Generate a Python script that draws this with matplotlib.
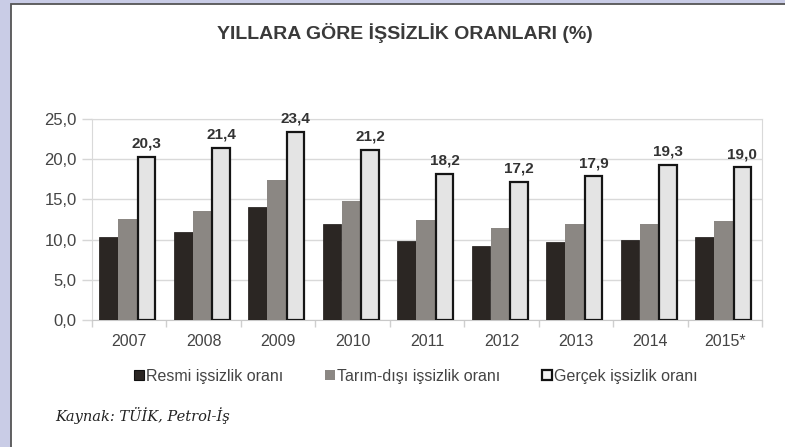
import matplotlib.pyplot as plt
import numpy as np
from matplotlib.patches import Rectangle, Patch

plt.rcParams['font.family'] = ['Liberation Sans', 'DejaVu Sans']

years = ['2007', '2008', '2009', '2010', '2011', '2012', '2013', '2014', '2015*']
resmi = [10.3, 11.0, 14.0, 11.9, 9.8, 9.2, 9.7, 9.9, 10.3]
tarim_disi = [12.6, 13.6, 17.4, 14.8, 12.4, 11.5, 12.0, 12.0, 12.3]
gercek = [20.3, 21.4, 23.4, 21.2, 18.2, 17.2, 17.9, 19.3, 19.0]
series_names = ['Resmi işsizlik oranı', 'Tarım-dışı işsizlik oranı', 'Gerçek işsizlik oranı']

fig = plt.figure(figsize=(7.85, 4.47), dpi=100)
fig.patch.set_facecolor('#c9cce6')
# white panel with dark frame line
fig.patches.append(Rectangle((11 / 785, -0.01), 1.0, 1 - 3.5 / 447 + 0.01, transform=fig.transFigure,
                             facecolor='white', edgecolor='#555555', linewidth=1.3, zorder=-10))

ax = fig.add_axes([92 / 785, 1 - 320 / 447, (762 - 92) / 785, (320 - 119) / 447])
ax.set_facecolor('white')

x = np.arange(len(years))
w = 0.25
ax.bar(x - 0.275, resmi, w, color='#2b2623', edgecolor='#1a1614', linewidth=0.5, zorder=3)
ax.bar(x - 0.02, tarim_disi, w, color='#8b8783', edgecolor='none', zorder=3)
ax.bar(x + 0.235, gercek, 0.235, color='#e4e4e4', edgecolor='#151515', linewidth=1.6, zorder=3)

for xi, v in zip(x, gercek):
    ax.text(xi + 0.235, v + 0.75, f'{v:.1f}'.replace('.', ','), ha='center', va='bottom',
            fontsize=11, fontweight='bold', color='#333333', zorder=4)

ax.set_xlim(-0.5, len(years) - 0.5)
ax.set_ylim(0, 25)
ax.set_yticks([0, 5, 10, 15, 20, 25])
ax.set_yticklabels([f'{t:.1f}'.replace('.', ',') for t in [0, 5, 10, 15, 20, 25]])
ax.set_xticks(x)
ax.set_xticklabels(years)
ax.set_xticks(np.arange(len(years) + 1) - 0.5, minor=True)
ax.tick_params(axis='x', which='major', length=0, pad=10, labelsize=11.5, labelcolor='#444444')
ax.tick_params(axis='x', which='minor', length=5, color='#cfcfcf', width=1)
ax.tick_params(axis='y', length=7, color='#d6d6d6', width=1, pad=4, labelsize=12, labelcolor='#444444')
ax.grid(axis='y', color='#d9d9d9', linewidth=1, zorder=0)
for side in ['top', 'right', 'left']:
    ax.spines[side].set_color('#d9d9d9')
ax.spines['bottom'].set_color('#c8c8c8')

fig.text(405 / 785, 1 - 33 / 447, 'YILLARA GÖRE İŞSİZLİK ORANLARI (%)', ha='center', va='center',
         fontsize=14, fontweight='bold', color='#3a3a3a')

handles = [Patch(facecolor='#2b2623', edgecolor='#111111', linewidth=0.8),
           Patch(facecolor='#8b8783', edgecolor='none'),
           Patch(facecolor='#f2f2f2', edgecolor='#111111', linewidth=1.6)]
leg = fig.legend(handles, series_names, loc='center', bbox_to_anchor=(416 / 785, 1 - 376 / 447), ncol=3,
                 frameon=False, fontsize=11.5, handlelength=0.6, handleheight=0.6, handletextpad=0.15,
                 columnspacing=2.6, borderpad=0)
for t in leg.get_texts():
    t.set_color('#444444')

fig.text(55 / 785, 1 - 415 / 447, 'Kaynak: TÜİK, Petrol-İş', ha='left', va='center',
         fontsize=10.5, fontstyle='italic', family='DejaVu Serif', color='#222222')

fig.savefig('out.png', dpi=100, facecolor=fig.get_facecolor())
